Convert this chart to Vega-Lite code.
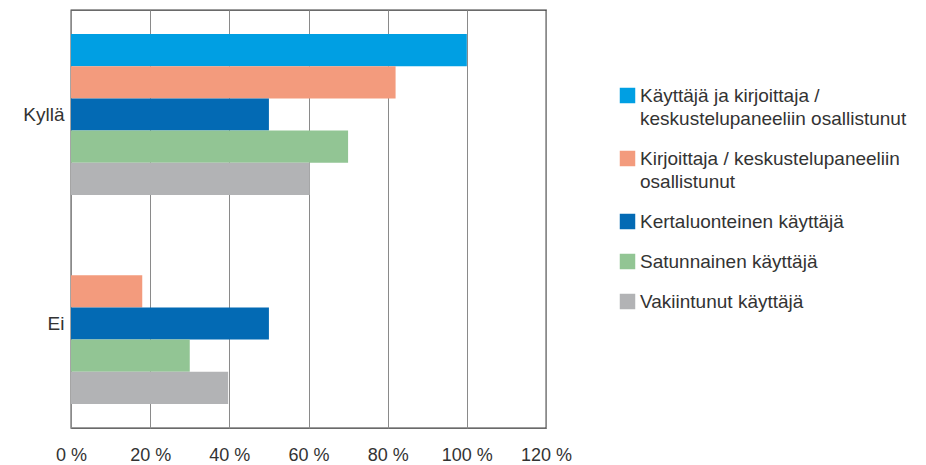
{
  "$schema": "https://vega.github.io/schema/vega-lite/v6.json",
  "width": 475,
  "height": 418,
  "autosize": {"type": "none"},
  "padding": {"left": 71, "top": 10, "right": 380, "bottom": 37},
  "background": "white",
  "data": {
    "values": [
      {"vastaus": "Kyllä", "ryhmä": "Käyttäjä ja kirjoittaja / keskustelupaneeliin osallistunut", "osuus": 100},
      {"vastaus": "Kyllä", "ryhmä": "Kirjoittaja / keskustelupaneeliin osallistunut", "osuus": 82},
      {"vastaus": "Kyllä", "ryhmä": "Kertaluonteinen käyttäjä", "osuus": 50},
      {"vastaus": "Kyllä", "ryhmä": "Satunnainen käyttäjä", "osuus": 70},
      {"vastaus": "Kyllä", "ryhmä": "Vakiintunut käyttäjä", "osuus": 60.3},
      {"vastaus": "Ei", "ryhmä": "Käyttäjä ja kirjoittaja / keskustelupaneeliin osallistunut", "osuus": 0},
      {"vastaus": "Ei", "ryhmä": "Kirjoittaja / keskustelupaneeliin osallistunut", "osuus": 18},
      {"vastaus": "Ei", "ryhmä": "Kertaluonteinen käyttäjä", "osuus": 50},
      {"vastaus": "Ei", "ryhmä": "Satunnainen käyttäjä", "osuus": 30},
      {"vastaus": "Ei", "ryhmä": "Vakiintunut käyttäjä", "osuus": 39.7}
    ]
  },
  "config": {
    "font": "Liberation Sans",
    "view": {"stroke": "#3a3a3a", "strokeWidth": 1.3},
    "axis": {"labelFont": "Liberation Sans", "labelFontSize": 19, "labelColor": "#333"},
    "legend": {"labelFont": "Liberation Sans", "labelFontSize": 19, "labelColor": "#333"}
  },
  "mark": {"type": "bar", "orient": "horizontal"},
  "encoding": {
    "y": {
      "field": "vastaus",
      "type": "nominal",
      "sort": ["Kyllä", "Ei"],
      "scale": {"paddingInner": 0.23, "paddingOuter": 0.115},
      "axis": {"title": null, "domain": false, "ticks": false, "labelPadding": 7, "labelAngle": 0}
    },
    "yOffset": {
      "field": "ryhmä",
      "type": "nominal",
      "sort": [
        "Käyttäjä ja kirjoittaja / keskustelupaneeliin osallistunut",
        "Kirjoittaja / keskustelupaneeliin osallistunut",
        "Kertaluonteinen käyttäjä",
        "Satunnainen käyttäjä",
        "Vakiintunut käyttäjä"
      ],
      "scale": {"paddingInner": 0, "paddingOuter": 0}
    },
    "x": {
      "field": "osuus",
      "type": "quantitative",
      "scale": {"domain": [0, 120], "nice": false},
      "axis": {
        "title": null,
        "values": [0, 20, 40, 60, 80, 100, 120],
        "labelExpr": "datum.value + ' %'",
        "labelFontSize": 18,
        "labelOverlap": false,
        "labelFlush": false,
        "domain": false,
        "ticks": false,
        "labelPadding": 18,
        "grid": true,
        "gridColor": "#8a8a8a",
        "gridWidth": 1
      }
    },
    "color": {
      "field": "ryhmä",
      "type": "nominal",
      "scale": {
        "domain": [
          "Käyttäjä ja kirjoittaja / keskustelupaneeliin osallistunut",
          "Kirjoittaja / keskustelupaneeliin osallistunut",
          "Kertaluonteinen käyttäjä",
          "Satunnainen käyttäjä",
          "Vakiintunut käyttäjä"
        ],
        "range": ["#009FE3", "#F39B7D", "#036AB4", "#92C594", "#B2B3B5"]
      },
      "legend": {
        "title": null,
        "orient": "none",
        "legendX": 547,
        "legendY": 76,
        "symbolType": "square",
        "symbolSize": 240,
        "symbolStrokeWidth": 0,
        "symbolOpacity": 1,
        "labelOffset": 3,
        "rowPadding": 20,
        "labelLimit": 400,
        "encode": {"labels": {"update": {"lineHeight": {"value": 23}}}},
        "labelExpr": "datum.label == 'Käyttäjä ja kirjoittaja / keskustelupaneeliin osallistunut' ? ['Käyttäjä ja kirjoittaja /', 'keskustelupaneeliin osallistunut'] : datum.label == 'Kirjoittaja / keskustelupaneeliin osallistunut' ? ['Kirjoittaja / keskustelupaneeliin', 'osallistunut'] : datum.label"
      }
    }
  }
}
